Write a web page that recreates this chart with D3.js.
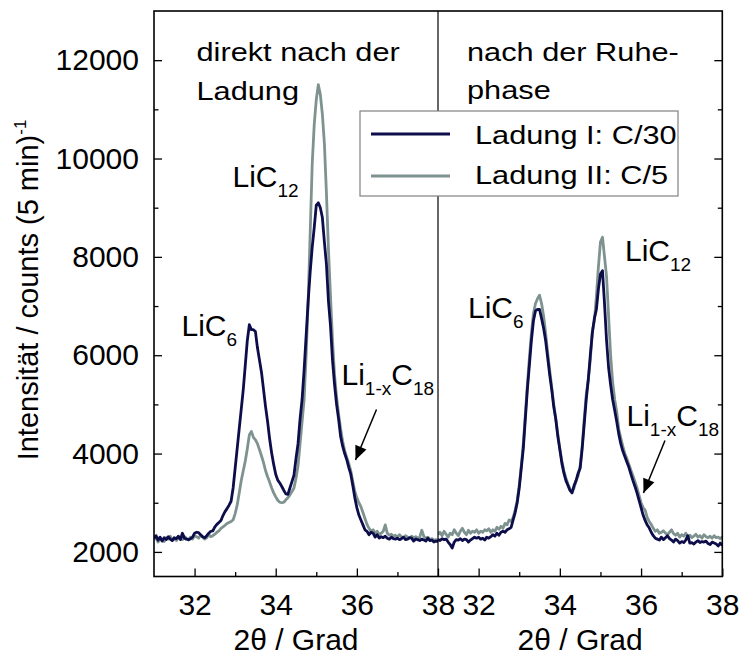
<!DOCTYPE html>
<html>
<head>
<meta charset="utf-8">
<script src="https://cdn.jsdelivr.net/npm/d3@7"></script>
<style>
  html, body { margin: 0; padding: 0; background: #fff; }
  svg { display: block; font-family: "Liberation Sans", Arial, sans-serif; }
</style>
</head>
<body>
<svg id="chart" width="745" height="657"></svg>
<script>
// Diffraction angle grid (2θ in degrees), 0.05° steps from 31 to 38
const theta = d3.range(141).map(i => +(31 + i * 0.05).toFixed(2));

// Intensity (counts per 5 min) directly after charging
const ladung1Direkt = [
  2280,2330,2240,2300,2220,2290,2250,2310,2260,2230,2290,2270,2320,2250,2380,2280,2260,2250,2270,2300,
  2380,2400,2390,2350,2310,2290,2330,2380,2420,2430,2510,2560,2600,2640,2740,2820,2880,2950,3030,3300,
  3700,4100,4500,4900,5300,5800,6300,6620,6520,6520,6480,6150,5900,5650,5300,4950,4650,4300,4010,3780,
  3580,3460,3400,3330,3250,3180,3170,3300,3430,3560,3900,4200,4700,5100,5700,6400,7100,7700,8200,8600,
  9050,9100,9000,8800,8300,7850,7100,6600,5900,5400,5000,4700,4350,4150,4000,3880,3720,3580,3350,3100,
  2900,2750,2650,2550,2450,2420,2350,2400,2380,2300,2350,2280,2310,2290,2320,2280,2260,2300,2270,2260,
  2280,2250,2270,2300,2250,2260,2290,2280,2220,2260,2250,2230,2260,2240,2220,2280,2230,2240,2200,2220,2210
];
const ladung2Direkt = [
  2250,2300,2200,2280,2230,2210,2290,2260,2320,2240,2270,2230,2290,2270,2250,2310,2280,2240,2300,2260,
  2330,2310,2280,2340,2300,2260,2290,2350,2310,2330,2360,2400,2430,2480,2510,2540,2580,2600,2620,2650,
  2780,2950,3200,3450,3650,3850,4100,4380,4450,4330,4280,4200,4080,3950,3815,3650,3530,3420,3300,3200,
  3120,3050,3010,3000,3010,3060,3100,3160,3230,3300,3500,3750,4200,4650,5100,6000,7100,8500,9900,10700,
  11200,11500,11300,10900,10300,9300,8150,7200,6300,5600,5150,4800,4500,4250,4060,3920,3800,3650,3430,3230,
  3100,3000,2920,2800,2680,2560,2480,2420,2450,2380,2420,2350,2380,2420,2550,2380,2340,2360,2320,2340,
  2300,2350,2310,2290,2330,2300,2280,2320,2290,2310,2280,2300,2440,2320,2280,2300,2250,2270,2240,2250,2240
];

// Intensity (counts per 5 min) after the rest phase
const ladung1Ruhe = [
  2250,2230,2270,2250,2260,2200,2150,2080,2200,2250,2240,2270,2230,2260,2250,2200,2240,2270,2300,2280,
  2300,2260,2280,2240,2300,2280,2310,2350,2320,2380,2340,2400,2420,2400,2450,2470,2500,2650,2800,3000,
  3300,3700,4100,4700,5300,5800,6300,6700,6900,6930,6930,6750,6550,6300,5950,5600,5300,4950,4700,4350,
  4080,3800,3600,3450,3350,3250,3200,3350,3450,3600,3700,4100,4600,5100,5500,6000,6450,6750,6930,7350,
  7650,7720,7050,6300,5750,5400,5100,4880,4650,4400,4200,4050,3940,3830,3720,3580,3450,3330,3200,3050,
  2900,2750,2640,2550,2490,2400,2330,2280,2260,2240,2300,2250,2290,2330,2270,2240,2200,2260,2230,2180,
  2210,2190,2240,2330,2180,2190,2160,2200,2230,2190,2210,2200,2220,2170,2150,2200,2180,2160,2120,2180,2130
];
const ladung2Ruhe = [
  2350,2400,2330,2420,2360,2300,2380,2350,2450,2380,2330,2420,2480,2400,2350,2440,2380,2420,2400,2450,
  2380,2420,2400,2450,2430,2470,2400,2450,2420,2500,2460,2520,2480,2580,2550,2650,2620,2700,2850,3050,
  3350,3750,4200,4800,5400,5950,6450,6850,7050,7150,7220,7050,6800,6450,6050,5700,5350,5000,4700,4400,
  4100,3850,3650,3500,3380,3280,3220,3300,3450,3550,3750,4150,4700,5200,5500,5900,6500,6700,7200,7800,
  8300,8400,8000,7600,6800,6000,5450,5100,4850,4500,4320,4150,4000,3900,3780,3660,3550,3430,3300,3150,
  3000,2900,2850,2700,2620,2560,2480,2420,2450,2380,2400,2430,2380,2350,2400,2450,2370,2340,2380,2300,
  2350,2320,2380,2300,2340,2290,2320,2360,2300,2330,2280,2350,2310,2290,2320,2280,2330,2290,2300,2270,2310
];

// Tick values
const xMajorTicks = [32, 34, 36, 38];
const xMinorTicks = [33, 35, 37];
const yMajorTicks = [2000, 4000, 6000, 8000, 10000, 12000];
const yMinorTicks = [3000, 5000, 7000, 9000, 11000];

// Text
const seriesNames = ["Ladung I: C/30", "Ladung II: C/5"];
const panelTitles = [["direkt nach der", "Ladung"], ["nach der Ruhe-", "phase"]];
const xTitle = "2θ / Grad";
const yTitle = "Intensität / counts (5 min)";

const colDark = "#0d0d4b";
const colGray = "#7e9290";
const WIDE = 1.16;   // horizontal widening of the annotation text
const FONT = "Liberation Sans, Arial, sans-serif";

const svg = d3.select("#chart");
const plotTop = 11, plotBottom = 576.5, plotLeft = 154, plotSplit = 438, plotRight = 722.3;

const y = d3.scaleLinear().domain([1500, 13000]).range([plotBottom, plotTop]);
const xL = d3.scaleLinear().domain([31, 38]).range([plotLeft, plotSplit]);
const xR = d3.scaleLinear().domain([31, 38]).range([plotSplit, plotRight]);

const panels = [
  { x: xL, s1: ladung1Direkt, s2: ladung2Direkt, id: "pL" },
  { x: xR, s1: ladung1Ruhe, s2: ladung2Ruhe, id: "pR" }
];

const defs = svg.append("defs");

function styleTicks(sel) {
  sel.select(".domain").remove();
  sel.selectAll("line").attr("stroke", "#000").attr("stroke-width", 1.3);
  sel.selectAll("text").style("font-size", "30px").style("font-family", FONT).attr("fill", "#000");
}

panels.forEach(p => {
  const [x0, x1] = p.x.range();
  defs.append("clipPath").attr("id", p.id)
    .append("rect").attr("x", x0).attr("y", plotTop).attr("width", x1 - x0).attr("height", plotBottom - plotTop);

  const line = d3.line().x((d, i) => p.x(theta[i])).y(d => y(d));
  const g = svg.append("g").attr("clip-path", `url(#${p.id})`);
  g.append("path").datum(p.s2).attr("d", line)
    .attr("fill", "none").attr("stroke", colGray).attr("stroke-width", 2.8).attr("stroke-linejoin", "round");
  g.append("path").datum(p.s1).attr("d", line)
    .attr("fill", "none").attr("stroke", colDark).attr("stroke-width", 2.8).attr("stroke-linejoin", "round");

  // bottom axis, ticks pointing inward
  svg.append("g").attr("transform", `translate(0,${plotBottom})`)
    .call(d3.axisBottom(p.x).tickValues(xMajorTicks).tickSize(-8).tickPadding(17).tickFormat(d3.format("d")))
    .call(styleTicks);
  svg.append("g").attr("transform", `translate(0,${plotBottom})`)
    .call(d3.axisBottom(p.x).tickValues(xMinorTicks).tickSize(-4.5).tickFormat(""))
    .call(styleTicks);

  // axis title
  svg.append("text")
    .attr("x", (x0 + x1) / 2).attr("y", 650)
    .attr("text-anchor", "middle").style("font-size", "30px").text(xTitle);
});

// left axis
svg.append("g").attr("transform", `translate(${plotLeft},0)`)
  .call(d3.axisLeft(y).tickValues(yMajorTicks).tickSize(-8).tickPadding(15).tickFormat(d3.format("d")))
  .call(styleTicks);
svg.append("g").attr("transform", `translate(${plotLeft},0)`)
  .call(d3.axisLeft(y).tickValues(yMinorTicks).tickSize(-4.5).tickFormat(""))
  .call(styleTicks);

// right axis (ticks only)
[[yMajorTicks, -8], [yMinorTicks, -4.5]].forEach(([vals, sz]) => {
  svg.append("g").attr("transform", `translate(${plotRight},0)`)
    .call(d3.axisRight(y).tickValues(vals).tickSize(sz).tickFormat(""))
    .call(styleTicks);
});

// frame and panel divider
svg.append("rect").attr("x", plotLeft).attr("y", plotTop).attr("width", plotRight - plotLeft).attr("height", plotBottom - plotTop)
  .attr("fill", "none").attr("stroke", "#000").attr("stroke-width", 1.6);
svg.append("line").attr("x1", plotSplit).attr("x2", plotSplit).attr("y1", plotTop).attr("y2", plotBottom)
  .attr("stroke", "#000").attr("stroke-width", 1.2);

// y axis title
const yt = svg.append("text")
  .attr("transform", "translate(37.5,290) rotate(-90)")
  .attr("text-anchor", "middle").style("font-size", "29px");
yt.append("tspan").text(yTitle);
yt.append("tspan").attr("dy", -12).style("font-size", "17px").text("-1");

// widened annotation text
function wtext(x, yb, size) {
  return svg.append("text")
    .attr("transform", `translate(${x},${yb}) scale(${WIDE},1)`)
    .style("font-size", size + "px");
}
wtext(196.5, 60.5, 26.5).text(panelTitles[0][0]);
wtext(196.5, 100, 26.5).text(panelTitles[0][1]);
wtext(467, 60.5, 26.5).text(panelTitles[1][0]);
wtext(467, 99, 26.5).text(panelTitles[1][1]);

// phase labels with subscripts
function phaseLabel(x, yb, parts) {
  const t = svg.append("text").attr("x", x).attr("y", yb).style("font-size", "30px");
  let shifted = false;
  parts.forEach(([s, sub]) => {
    const ts = t.append("tspan").text(s);
    if (sub && !shifted) { ts.attr("dy", 10).style("font-size", "19px"); shifted = true; }
    else if (!sub && shifted) { ts.attr("dy", -10); shifted = false; }
  });
}
phaseLabel(181.5, 336, [["LiC"], ["6", 1]]);
phaseLabel(232.5, 186.5, [["LiC"], ["12", 1]]);
phaseLabel(341.5, 385, [["Li"], ["1-x", 1], ["C"], ["18", 1]]);
phaseLabel(468, 318, [["LiC"], ["6", 1]]);
phaseLabel(625, 261, [["LiC"], ["12", 1]]);
phaseLabel(626.5, 426, [["Li"], ["1-x", 1], ["C"], ["18", 1]]);

// arrows pointing at the shoulder
[[376.5, 409.5, 355.5, 460], [665, 440.5, 643.5, 493]].forEach(([x1, y1, x2, y2]) => {
  const dx = x2 - x1, dy = y2 - y1, len = Math.hypot(dx, dy);
  svg.append("line").attr("x1", x1).attr("y1", y1)
    .attr("x2", x2).attr("y2", y2)
    .attr("stroke", "#000").attr("stroke-width", 1.5);
  const ux = dx / len, uy = dy / len, hl = 14, hw = 6;
  const bx = x2 - ux * hl, by = y2 - uy * hl;
  svg.append("path")
    .attr("d", `M${x2},${y2} L${bx - uy * hw},${by + ux * hw} L${bx + uy * hw},${by - ux * hw} Z`)
    .attr("fill", "#000");
});

// legend
const lg = svg.append("g");
lg.append("rect").attr("x", 360).attr("y", 111).attr("width", 318).attr("height", 85)
  .attr("fill", "#fff").attr("stroke", "#808080").attr("stroke-width", 1.2);
[[colDark, 134, 144], [colGray, 176, 183.5]].forEach(([c, ly, ty], i) => {
  lg.append("line").attr("x1", 371).attr("x2", 450).attr("y1", ly).attr("y2", ly)
    .attr("stroke", c).attr("stroke-width", 3);
  lg.append("text").attr("transform", `translate(475,${ty}) scale(${WIDE},1)`)
    .style("font-size", "26.5px").text(seriesNames[i]);
});
</script>
</body>
</html>
